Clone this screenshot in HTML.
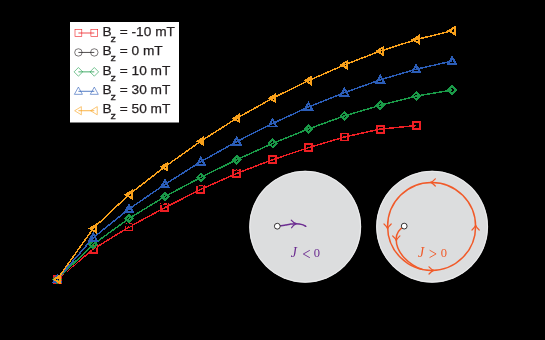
<!DOCTYPE html>
<html><head><meta charset="utf-8"><title>plot</title>
<style>
html,body{margin:0;padding:0;background:#000;}
svg{display:block}
text{filter:opacity(1)}
.lg{font-family:"Liberation Sans",sans-serif;font-size:13.7px;fill:#231f20;stroke:#231f20;stroke-width:0.25px}
.mt{font-family:"Liberation Serif",serif;font-size:12.5px}
</style></head>
<body>
<svg width="545" height="340" viewBox="0 0 545 340">
<rect width="545" height="340" fill="#000"/>
<polyline points="57.25,279.3 93.14,249.2 129.03,227.0 164.92,207.6 200.81,189.4 236.7,173.4 272.59,159.7 308.48,147.7 344.37,137.0 380.26,129.1 416.15,125.6" fill="none" stroke="#ed1f24" stroke-width="1.5" stroke-linejoin="round" shape-rendering="crispEdges"/>
<g shape-rendering="crispEdges">
<rect x="53.75" y="275.80" width="7.00" height="7.00" fill="none" stroke="#ed1f24" stroke-width="1.9"/>
<rect x="89.64" y="245.70" width="7.00" height="7.00" fill="none" stroke="#ed1f24" stroke-width="1.9"/>
<rect x="125.53" y="223.50" width="7.00" height="7.00" fill="none" stroke="#ed1f24" stroke-width="1.9"/>
<rect x="161.42" y="204.10" width="7.00" height="7.00" fill="none" stroke="#ed1f24" stroke-width="1.9"/>
<rect x="197.31" y="185.90" width="7.00" height="7.00" fill="none" stroke="#ed1f24" stroke-width="1.9"/>
<rect x="233.20" y="169.90" width="7.00" height="7.00" fill="none" stroke="#ed1f24" stroke-width="1.9"/>
<rect x="269.09" y="156.20" width="7.00" height="7.00" fill="none" stroke="#ed1f24" stroke-width="1.9"/>
<rect x="304.98" y="144.20" width="7.00" height="7.00" fill="none" stroke="#ed1f24" stroke-width="1.9"/>
<rect x="340.87" y="133.50" width="7.00" height="7.00" fill="none" stroke="#ed1f24" stroke-width="1.9"/>
<rect x="376.76" y="125.60" width="7.00" height="7.00" fill="none" stroke="#ed1f24" stroke-width="1.9"/>
<rect x="412.65" y="122.10" width="7.00" height="7.00" fill="none" stroke="#ed1f24" stroke-width="1.9"/>
</g>
<polyline points="57.25,279.3 93.14,246.9 129.03,222.8 164.92,202.2 200.81,183.6 236.7,166.8 272.59,151.2 308.48,138.2 344.37,126.4 380.26,117.4 416.15,111.0 452.04,107.5" fill="none" stroke="#000000" stroke-width="1.2" stroke-linejoin="round" shape-rendering="crispEdges"/>
<g shape-rendering="crispEdges">
<circle cx="57.25" cy="279.30" r="3.38" fill="none" stroke="#000000" stroke-width="0.9"/>
<circle cx="93.14" cy="246.90" r="3.38" fill="none" stroke="#000000" stroke-width="0.9"/>
<circle cx="129.03" cy="222.80" r="3.38" fill="none" stroke="#000000" stroke-width="0.9"/>
<circle cx="164.92" cy="202.20" r="3.38" fill="none" stroke="#000000" stroke-width="0.9"/>
<circle cx="200.81" cy="183.60" r="3.38" fill="none" stroke="#000000" stroke-width="0.9"/>
<circle cx="236.70" cy="166.80" r="3.38" fill="none" stroke="#000000" stroke-width="0.9"/>
<circle cx="272.59" cy="151.20" r="3.38" fill="none" stroke="#000000" stroke-width="0.9"/>
<circle cx="308.48" cy="138.20" r="3.38" fill="none" stroke="#000000" stroke-width="0.9"/>
<circle cx="344.37" cy="126.40" r="3.38" fill="none" stroke="#000000" stroke-width="0.9"/>
<circle cx="380.26" cy="117.40" r="3.38" fill="none" stroke="#000000" stroke-width="0.9"/>
<circle cx="416.15" cy="111.00" r="3.38" fill="none" stroke="#000000" stroke-width="0.9"/>
<circle cx="452.04" cy="107.50" r="3.38" fill="none" stroke="#000000" stroke-width="0.9"/>
</g>
<polyline points="57.25,279.3 93.14,244.4 129.03,218.5 164.92,196.5 200.81,177.4 236.7,159.7 272.59,143.4 308.48,128.9 344.37,115.9 380.26,105.3 416.15,96.1 452.04,90.0" fill="none" stroke="#1a9a48" stroke-width="1.5" stroke-linejoin="round" shape-rendering="crispEdges"/>
<g shape-rendering="crispEdges">
<path d="M53.54 279.30L57.25 275.59L60.96 279.30L57.25 283.01Z" fill="none" stroke="#1a9a48" stroke-width="1.9"/>
<path d="M89.43 244.40L93.14 240.69L96.85 244.40L93.14 248.11Z" fill="none" stroke="#1a9a48" stroke-width="1.9"/>
<path d="M125.32 218.50L129.03 214.79L132.74 218.50L129.03 222.21Z" fill="none" stroke="#1a9a48" stroke-width="1.9"/>
<path d="M161.21 196.50L164.92 192.79L168.63 196.50L164.92 200.21Z" fill="none" stroke="#1a9a48" stroke-width="1.9"/>
<path d="M197.10 177.40L200.81 173.69L204.52 177.40L200.81 181.11Z" fill="none" stroke="#1a9a48" stroke-width="1.9"/>
<path d="M232.99 159.70L236.70 155.99L240.41 159.70L236.70 163.41Z" fill="none" stroke="#1a9a48" stroke-width="1.9"/>
<path d="M268.88 143.40L272.59 139.69L276.30 143.40L272.59 147.11Z" fill="none" stroke="#1a9a48" stroke-width="1.9"/>
<path d="M304.77 128.90L308.48 125.19L312.19 128.90L308.48 132.61Z" fill="none" stroke="#1a9a48" stroke-width="1.9"/>
<path d="M340.66 115.90L344.37 112.19L348.08 115.90L344.37 119.61Z" fill="none" stroke="#1a9a48" stroke-width="1.9"/>
<path d="M376.55 105.30L380.26 101.59L383.97 105.30L380.26 109.01Z" fill="none" stroke="#1a9a48" stroke-width="1.9"/>
<path d="M412.44 96.10L416.15 92.39L419.86 96.10L416.15 99.81Z" fill="none" stroke="#1a9a48" stroke-width="1.9"/>
<path d="M448.33 90.00L452.04 86.29L455.75 90.00L452.04 93.71Z" fill="none" stroke="#1a9a48" stroke-width="1.9"/>
</g>
<polyline points="57.25,279.3 93.14,237.8 129.03,209.0 164.92,184.4 200.81,161.7 236.7,141.6 272.59,123.5 308.48,107.0 344.37,92.7 380.26,79.8 416.15,69.2 452.04,61.1" fill="none" stroke="#2b5db7" stroke-width="1.5" stroke-linejoin="round" shape-rendering="crispEdges"/>
<g shape-rendering="crispEdges">
<path d="M53.33 282.28L61.17 282.28L57.25 275.18Z" fill="none" stroke="#2b5db7" stroke-width="1.9" stroke-linejoin="miter"/>
<path d="M89.22 240.78L97.06 240.78L93.14 233.68Z" fill="none" stroke="#2b5db7" stroke-width="1.9" stroke-linejoin="miter"/>
<path d="M125.11 211.98L132.95 211.98L129.03 204.88Z" fill="none" stroke="#2b5db7" stroke-width="1.9" stroke-linejoin="miter"/>
<path d="M161.00 187.38L168.84 187.38L164.92 180.28Z" fill="none" stroke="#2b5db7" stroke-width="1.9" stroke-linejoin="miter"/>
<path d="M196.89 164.68L204.73 164.68L200.81 157.58Z" fill="none" stroke="#2b5db7" stroke-width="1.9" stroke-linejoin="miter"/>
<path d="M232.78 144.58L240.62 144.58L236.70 137.48Z" fill="none" stroke="#2b5db7" stroke-width="1.9" stroke-linejoin="miter"/>
<path d="M268.67 126.48L276.51 126.48L272.59 119.38Z" fill="none" stroke="#2b5db7" stroke-width="1.9" stroke-linejoin="miter"/>
<path d="M304.56 109.98L312.40 109.98L308.48 102.88Z" fill="none" stroke="#2b5db7" stroke-width="1.9" stroke-linejoin="miter"/>
<path d="M340.45 95.68L348.29 95.68L344.37 88.58Z" fill="none" stroke="#2b5db7" stroke-width="1.9" stroke-linejoin="miter"/>
<path d="M376.34 82.78L384.18 82.78L380.26 75.68Z" fill="none" stroke="#2b5db7" stroke-width="1.9" stroke-linejoin="miter"/>
<path d="M412.23 72.18L420.07 72.18L416.15 65.08Z" fill="none" stroke="#2b5db7" stroke-width="1.9" stroke-linejoin="miter"/>
<path d="M448.12 64.08L455.96 64.08L452.04 56.98Z" fill="none" stroke="#2b5db7" stroke-width="1.9" stroke-linejoin="miter"/>
</g>
<polyline points="57.25,279.3 93.14,228.5 129.03,194.6 164.92,166.7 200.81,141.2 236.7,118.3 272.59,98.2 308.48,80.6 344.37,64.9 380.26,51.1 416.15,39.6 452.04,30.7" fill="none" stroke="#f9a11b" stroke-width="1.5" stroke-linejoin="round" shape-rendering="crispEdges"/>
<g shape-rendering="crispEdges">
<path d="M59.77 275.80L59.77 282.80L54.03 279.30Z" fill="none" stroke="#f9a11b" stroke-width="1.9" stroke-linejoin="miter"/>
<path d="M95.66 225.00L95.66 232.00L89.92 228.50Z" fill="none" stroke="#f9a11b" stroke-width="1.9" stroke-linejoin="miter"/>
<path d="M131.55 191.10L131.55 198.10L125.81 194.60Z" fill="none" stroke="#f9a11b" stroke-width="1.9" stroke-linejoin="miter"/>
<path d="M167.44 163.20L167.44 170.20L161.70 166.70Z" fill="none" stroke="#f9a11b" stroke-width="1.9" stroke-linejoin="miter"/>
<path d="M203.33 137.70L203.33 144.70L197.59 141.20Z" fill="none" stroke="#f9a11b" stroke-width="1.9" stroke-linejoin="miter"/>
<path d="M239.22 114.80L239.22 121.80L233.48 118.30Z" fill="none" stroke="#f9a11b" stroke-width="1.9" stroke-linejoin="miter"/>
<path d="M275.11 94.70L275.11 101.70L269.37 98.20Z" fill="none" stroke="#f9a11b" stroke-width="1.9" stroke-linejoin="miter"/>
<path d="M311.00 77.10L311.00 84.10L305.26 80.60Z" fill="none" stroke="#f9a11b" stroke-width="1.9" stroke-linejoin="miter"/>
<path d="M346.89 61.40L346.89 68.40L341.15 64.90Z" fill="none" stroke="#f9a11b" stroke-width="1.9" stroke-linejoin="miter"/>
<path d="M382.78 47.60L382.78 54.60L377.04 51.10Z" fill="none" stroke="#f9a11b" stroke-width="1.9" stroke-linejoin="miter"/>
<path d="M418.67 36.10L418.67 43.10L412.93 39.60Z" fill="none" stroke="#f9a11b" stroke-width="1.9" stroke-linejoin="miter"/>
<path d="M454.56 27.20L454.56 34.20L448.82 30.70Z" fill="none" stroke="#f9a11b" stroke-width="1.9" stroke-linejoin="miter"/>
</g>
<rect x="70" y="22" width="109" height="100.5" fill="#fff"/>
<line x1="78.4" y1="33.00" x2="94.3" y2="33.00" stroke="#ed1f24" stroke-width="0.8"/>
<rect x="75.00" y="29.60" width="6.80" height="6.80" fill="none" stroke="#ed1f24" stroke-width="0.6"/>
<rect x="90.90" y="29.60" width="6.80" height="6.80" fill="none" stroke="#ed1f24" stroke-width="0.6"/>
<text class="lg" x="102.4" y="35.70">B</text>
<text class="lg" transform="translate(110.44 41.70) scale(1.13 1)" style="font-size:9.6px">z</text>
<text class="lg" x="119.75" y="35.70">= -10 mT</text>
<line x1="78.4" y1="52.43" x2="94.3" y2="52.43" stroke="#231f20" stroke-width="0.8"/>
<circle cx="78.40" cy="52.43" r="3.71" fill="none" stroke="#231f20" stroke-width="0.6"/>
<circle cx="94.30" cy="52.43" r="3.71" fill="none" stroke="#231f20" stroke-width="0.6"/>
<text class="lg" x="102.4" y="55.13">B</text>
<text class="lg" transform="translate(110.44 61.13) scale(1.13 1)" style="font-size:9.6px">z</text>
<text class="lg" x="119.75" y="55.13">= 0 mT</text>
<line x1="78.4" y1="71.86" x2="94.3" y2="71.86" stroke="#1a9a48" stroke-width="0.8"/>
<path d="M74.08 71.86L78.40 67.54L82.72 71.86L78.40 76.18Z" fill="none" stroke="#1a9a48" stroke-width="0.6"/>
<path d="M89.98 71.86L94.30 67.54L98.62 71.86L94.30 76.18Z" fill="none" stroke="#1a9a48" stroke-width="0.6"/>
<text class="lg" x="102.4" y="74.56">B</text>
<text class="lg" transform="translate(110.44 80.56) scale(1.13 1)" style="font-size:9.6px">z</text>
<text class="lg" x="119.75" y="74.56">= 10 mT</text>
<line x1="78.4" y1="91.29" x2="94.3" y2="91.29" stroke="#2b5db7" stroke-width="0.8"/>
<path d="M74.40 94.33L82.40 94.33L78.40 87.09Z" fill="none" stroke="#2b5db7" stroke-width="0.6" stroke-linejoin="miter"/>
<path d="M90.30 94.33L98.30 94.33L94.30 87.09Z" fill="none" stroke="#2b5db7" stroke-width="0.6" stroke-linejoin="miter"/>
<text class="lg" x="102.4" y="93.99">B</text>
<text class="lg" transform="translate(110.44 99.99) scale(1.13 1)" style="font-size:9.6px">z</text>
<text class="lg" x="119.75" y="93.99">= 30 mT</text>
<line x1="78.4" y1="110.72" x2="94.3" y2="110.72" stroke="#f9a11b" stroke-width="0.8"/>
<path d="M81.34 106.64L81.34 114.80L74.65 110.72Z" fill="none" stroke="#f9a11b" stroke-width="0.6" stroke-linejoin="miter"/>
<path d="M97.24 106.64L97.24 114.80L90.55 110.72Z" fill="none" stroke="#f9a11b" stroke-width="0.6" stroke-linejoin="miter"/>
<text class="lg" x="102.4" y="113.42">B</text>
<text class="lg" transform="translate(110.44 119.42) scale(1.13 1)" style="font-size:9.6px">z</text>
<text class="lg" x="119.75" y="113.42">= 50 mT</text>
<circle cx="305.2" cy="226.7" r="56.0" fill="#dcddde"/>
<circle cx="305.2" cy="226.7" r="55.4" fill="none" stroke="#ededee" stroke-width="0.9"/>
<circle cx="432.1" cy="226.7" r="56.0" fill="#dcddde"/>
<circle cx="432.1" cy="226.7" r="55.4" fill="none" stroke="#ededee" stroke-width="0.9"/>
<path d="M277.30 226.30C277.92 226.20 279.65 225.92 281.00 225.70C282.35 225.48 283.90 225.25 285.40 225.00C286.90 224.75 288.45 224.42 290.00 224.20C291.55 223.97 293.15 223.70 294.70 223.65C296.25 223.60 297.90 223.69 299.30 223.90C300.70 224.11 302.02 224.50 303.10 224.90C304.18 225.30 305.35 226.07 305.80 226.30" fill="none" stroke="#6c2d91" stroke-width="1.5" stroke-linecap="round"/>
<path d="M291.2 220.2 C292.5 221.9 294.2 223.1 296.4 223.6 C294.4 224.4 292.7 225.9 291.6 227.8" fill="none" stroke="#6c2d91" stroke-width="1.2" stroke-linecap="round" stroke-linejoin="round"/>
<circle cx="277.3" cy="226.2" r="2.9" fill="#fff" stroke="#231f20" stroke-width="0.9"/>
<text class="mt" x="290.8" y="257.3" style="font-size:13.8px;font-style:italic" fill="#6c2d91">J</text>
<path d="M309.8 250.3 L303.3 254 L309.8 257.7" fill="none" stroke="#6c2d91" stroke-width="0.9"/>
<text class="mt" x="313.8" y="257" fill="#6c2d91">0</text>
<circle cx="431.6" cy="226.4" r="44.0" fill="none" stroke="#f15a29" stroke-width="1.5"/>
<path d="M404.2 226.1 C399.5 229 396.4 233.5 396.2 238.5 C396.0 245 399 252 404 257.5 C408.5 262.5 416.6 268.2 422.5 269.4" fill="none" stroke="#f15a29" stroke-width="1.5"/>
<path d="M435.30 178.80Q432.66 181.75 430.50 182.40Q432.66 183.05 435.30 186.00" fill="none" stroke="#f15a29" stroke-width="1.2" stroke-linecap="round" stroke-linejoin="round"/>
<path d="M384.00 224.00Q386.95 226.64 387.60 228.80Q388.25 226.64 391.20 224.00" fill="none" stroke="#f15a29" stroke-width="1.2" stroke-linecap="round" stroke-linejoin="round"/>
<path d="M429.00 274.00Q431.64 271.05 433.80 270.40Q431.64 269.75 429.00 266.80" fill="none" stroke="#f15a29" stroke-width="1.2" stroke-linecap="round" stroke-linejoin="round"/>
<path d="M479.20 230.00Q476.25 227.36 475.60 225.20Q474.95 227.36 472.00 230.00" fill="none" stroke="#f15a29" stroke-width="1.2" stroke-linecap="round" stroke-linejoin="round"/>
<path d="M392.70 235.97Q395.71 238.55 396.40 240.70Q397.00 238.53 399.90 235.83" fill="none" stroke="#f15a29" stroke-width="1.2" stroke-linecap="round" stroke-linejoin="round"/>
<circle cx="404.2" cy="226.1" r="2.9" fill="#fff" stroke="#231f20" stroke-width="0.9"/>
<text class="mt" x="418.1" y="257.2" style="font-size:13.8px;font-style:italic" fill="#f15a29">J</text>
<path d="M429.6 250.2 L436.1 253.9 L429.6 257.6" fill="none" stroke="#f15a29" stroke-width="0.9"/>
<text class="mt" x="440.8" y="256.9" fill="#f15a29">0</text>
</svg>
</body></html>
